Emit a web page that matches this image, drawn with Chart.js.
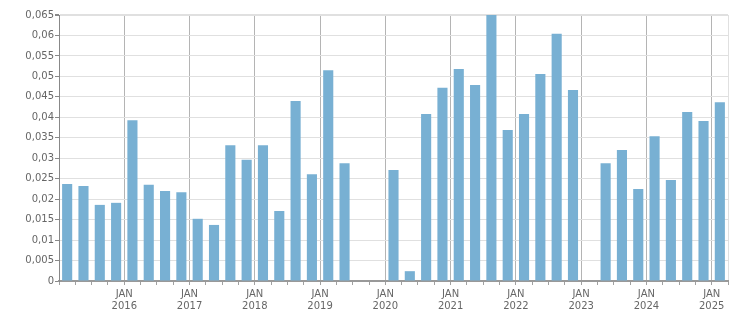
<!DOCTYPE html>
<html>
<head>
<meta charset="utf-8">
<script src="https://cdn.jsdelivr.net/npm/chart.js@4/dist/chart.umd.min.js"></script>
<style>
  html, body { margin: 0; padding: 0; background: #fff; }
  #wrap { width: 751px; height: 313px; }
</style>
</head>
<body>
<div id="wrap"><canvas id="chart"></canvas></div>
<script>
// quarters 2015 Q1 .. 2025 Q1
const years = [2015, 2016, 2017, 2018, 2019, 2020, 2021, 2022, 2023, 2024, 2025];
const quarters = [];
years.forEach(y => {
  [1, 2, 3, 4].forEach(q => {
    if (y === 2025 && q > 1) return;
    quarters.push(y + '-Q' + q);
  });
});

const values = [
  0.0237, 0.0232, 0.0186, 0.0191,
  0.0393, 0.0235, 0.0220, 0.0217,
  0.0152, 0.0137, 0.0332, 0.0296,
  0.0332, 0.0171, 0.0440, 0.0261,
  0.0515, 0.0288, null, null,
  0.0271, 0.0024, 0.0408, 0.0472,
  0.0518, 0.0479, 0.0650, 0.0369,
  0.0408, 0.0506, 0.0604, 0.0467,
  null, 0.0288, 0.0320, 0.0225,
  0.0354, 0.0247, 0.0413, 0.0391,
  0.0437
];

const yTicks = { min: 0, max: 0.065, step: 0.005 };

const isQ1 = i => quarters[i] && quarters[i].endsWith('-Q1');

new Chart(document.getElementById('chart'), {
  type: 'bar',
  data: {
    labels: quarters,
    datasets: [{
      data: values,
      backgroundColor: '#78b0d3',
      categoryPercentage: 1,
      barPercentage: 0.62
    }]
  },
  options: {
    responsive: true,
    maintainAspectRatio: false,
    animation: false,
    layout: { padding: { top: 15, right: 23, left: 0, bottom: 0 } },
    plugins: { legend: { display: false }, tooltip: { enabled: false } },
    scales: {
      x: {
        grid: {
          offset: true,
          drawTicks: true,
          tickLength: 4,
          tickColor: '#a0a0a0',
          lineWidth: 1,
          color: ctx => {
            if (ctx.tick === undefined) return '#e0e0e0';
            if (ctx.index === 0) return 'rgba(0,0,0,0)';
            return isQ1(ctx.index) ? '#b4b4b4' : 'rgba(0,0,0,0)';
          }
        },
        border: { color: '#999', width: 2 },
        ticks: {
          autoSkip: false,
          maxRotation: 0,
          minRotation: 0,
          padding: 3,
          labelOffset: -8.16,
          color: '#666',
          font: { family: 'DejaVu Sans', size: 10 },
          callback: function (v, i) {
            if (i === 0 || !isQ1(i)) return '';
            return ['JAN', quarters[i].slice(0, 4)];
          }
        },
        afterFit: s => { s.height = 32; }
      },
      y: {
        min: yTicks.min,
        max: yTicks.max,
        grid: {
          color: '#e0e0e0',
          lineWidth: ctx => (ctx.tick && ctx.tick.value >= 0.0649 ? 2 : 1),
          drawTicks: true,
          tickLength: 4,
          tickColor: '#888'
        },
        border: { color: '#888', width: 1 },
        ticks: {
          stepSize: yTicks.step,
          padding: 1,
          color: '#666',
          font: { family: 'DejaVu Sans', size: 10 },
          callback: v => Number(v.toFixed(3)).toString().replace('.', ',')
        },
        afterFit: s => { s.width = 59; }
      }
    }
  }
});
</script>
</body>
</html>
